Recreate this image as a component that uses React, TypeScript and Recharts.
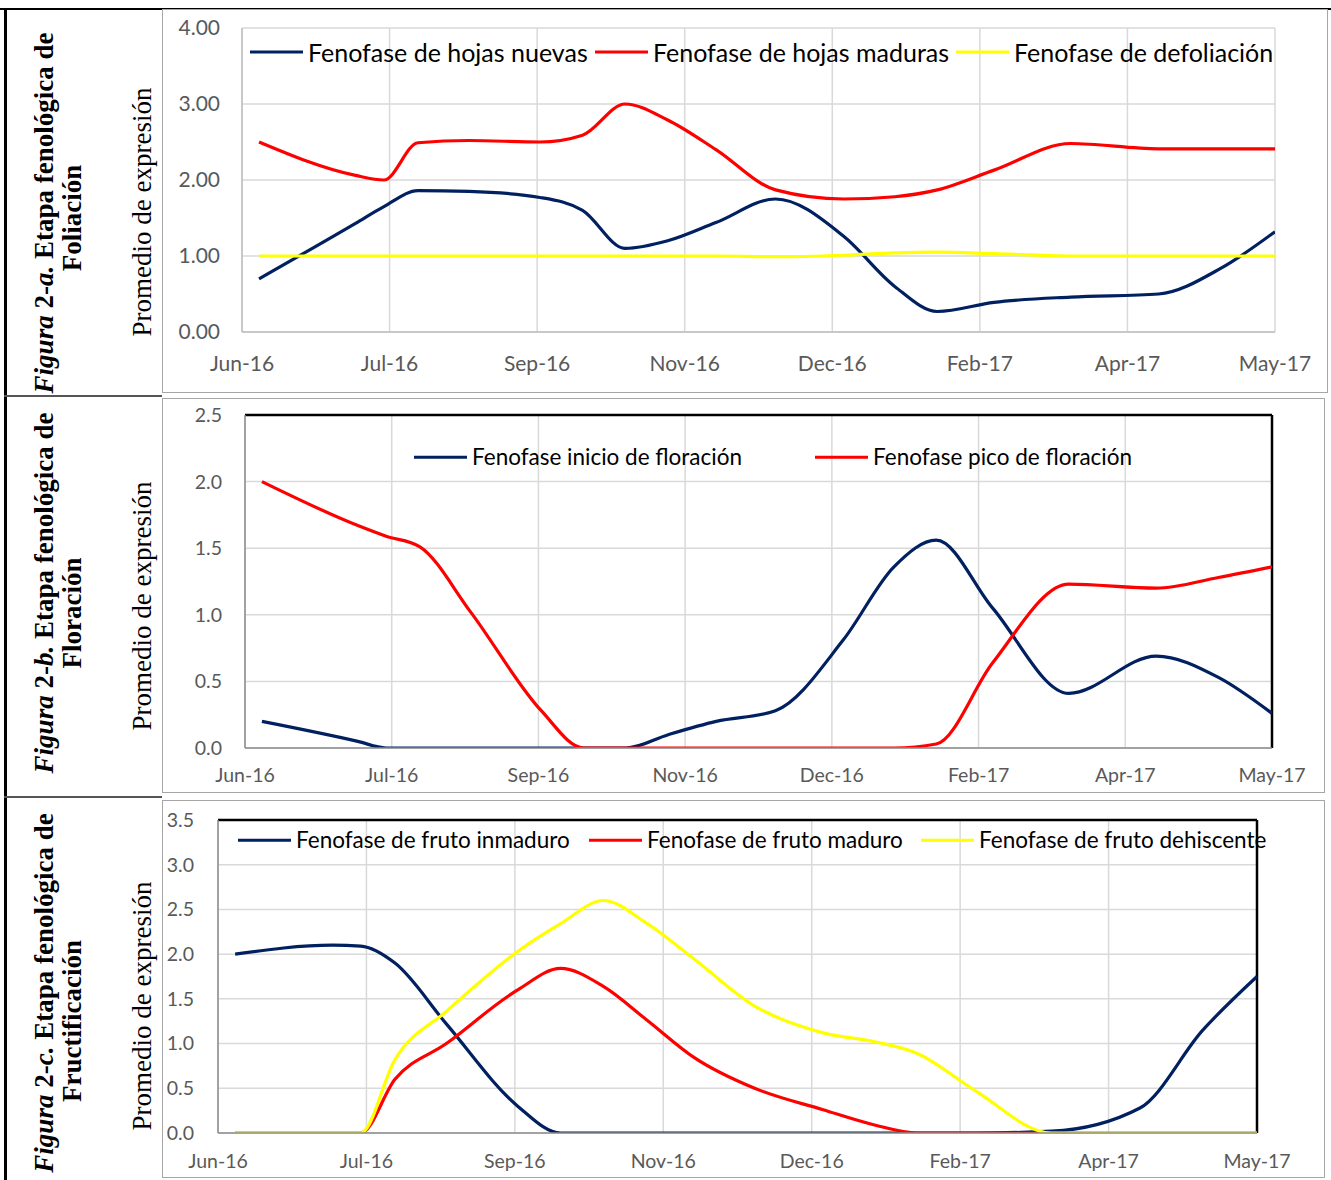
import React from 'react';
import { LineChart, Line, XAxis, YAxis, CartesianGrid, ReferenceLine } from 'recharts';

// ---- DATA ----
// sampling dates, as days counted from 1 Jun 2016
const sampleDays = [6, 40, 50, 62, 80, 105, 120, 135, 150, 167, 188, 212, 230, 245, 265, 292, 323, 345, 364];
// axis tick dates (days from 1 Jun 2016) and their labels
const tickDays = [0, 52, 104, 156, 208, 260, 312, 364];
const tickLabels = ['Jun-16', 'Jul-16', 'Sep-16', 'Nov-16', 'Dec-16', 'Feb-17', 'Apr-17', 'May-17'];

// Figura 2-a Foliación
const hojasNuevas = [0.70, 1.43, 1.65, 1.86, 1.85, 1.77, 1.60, 1.10, 1.20, 1.44, 1.75, 1.26, 0.60, 0.27, 0.39, 0.46, 0.50, 0.84, 1.32];
const hojasMaduras = [2.50, 2.06, 2.00, 2.49, 2.52, 2.50, 2.59, 3.00, 2.79, 2.40, 1.87, 1.75, 1.78, 1.87, 2.13, 2.48, 2.41, 2.41, 2.41];
const defoliacion = [1.00, 1.00, 1.00, 1.00, 1.00, 1.00, 1.00, 1.00, 1.00, 1.00, 0.99, 1.01, 1.04, 1.05, 1.03, 1.00, 1.00, 1.00, 1.00];

// Figura 2-b Floración
const inicioFloracion = [0.20, 0.05, 0.00, 0.00, 0.00, 0.00, 0.00, 0.00, 0.10, 0.20, 0.28, 0.81, 1.36, 1.56, 1.05, 0.41, 0.69, 0.53, 0.26];
const picoFloracion = [2.00, 1.67, 1.59, 1.51, 1.02, 0.28, 0.00, 0.00, 0.00, 0.00, 0.00, 0.00, 0.00, 0.03, 0.64, 1.23, 1.20, 1.28, 1.36];

// Figura 2-c Fructificación
const frutoInmaduro = [2.00, 2.10, 2.09, 1.90, 1.22, 0.30, 0.00, 0.00, 0.00, 0.00, 0.00, 0.00, 0.00, 0.00, 0.00, 0.02, 0.28, 1.15, 1.75];
const frutoMaduro = [0.00, 0.00, 0.00, 0.60, 1.00, 1.60, 1.84, 1.64, 1.27, 0.84, 0.50, 0.26, 0.09, 0.00, 0.00, 0.00, 0.00, 0.00, 0.00];
const frutoDehiscente = [0.00, 0.00, 0.00, 0.82, 1.36, 2.03, 2.34, 2.60, 2.35, 1.94, 1.42, 1.12, 1.02, 0.89, 0.48, 0.00, 0.00, 0.00, 0.00];

const yTicksA = [0, 1, 2, 3, 4];
const yTicksB = [0, 0.5, 1, 1.5, 2, 2.5];
const yTicksC = [0, 0.5, 1, 1.5, 2, 2.5, 3, 3.5];

const NAVY = '#002060';
const RED = '#FF0000';
const YELLOW = '#FFFF00';

const seriesA = [
  { key: 'nuevas', name: 'Fenofase de hojas nuevas', color: NAVY, values: hojasNuevas },
  { key: 'maduras', name: 'Fenofase de hojas maduras', color: RED, values: hojasMaduras },
  { key: 'defol', name: 'Fenofase de defoliación', color: YELLOW, values: defoliacion },
];
const seriesB = [
  { key: 'inicio', name: 'Fenofase inicio de floración', color: NAVY, values: inicioFloracion },
  { key: 'pico', name: 'Fenofase pico de floración', color: RED, values: picoFloracion },
];
const seriesC = [
  { key: 'inmaduro', name: 'Fenofase de fruto inmaduro', color: NAVY, values: frutoInmaduro },
  { key: 'maduro', name: 'Fenofase de fruto maduro', color: RED, values: frutoMaduro },
  { key: 'dehisc', name: 'Fenofase de fruto dehiscente', color: YELLOW, values: frutoDehiscente },
];

function buildRows(series: any[]) {
  return sampleDays.map((day, i) => {
    const row: any = { day };
    series.forEach((s) => {
      row[s.key] = s.values[i];
    });
    return row;
  });
}

const SANS = 'Lato, "Open Sans", sans-serif';
const SERIF = '"Liberation Serif", "Times New Roman", serif';

type PanelProps = {
  series: any[];
  box: { left: number; top: number; width: number; height: number };
  margin: { top: number; right: number; left: number; bottom: number };
  yAxisWidth: number;
  xAxisHeight: number;
  yTicks: number[];
  decimals: number;
  tickFont: number;
  yTickMargin: number;
  xTickMargin: number;
  framed: boolean;
  legend: { y: number; xs: number[]; font: number };
};

function Panel(p: PanelProps) {
  const data = buildRows(p.series);
  const yMax = p.yTicks[p.yTicks.length - 1];
  const tickStyle = { fill: '#595959', fontSize: p.tickFont, fontFamily: SANS };
  const axisGray = p.framed ? '#8c8c8c' : '#bfbfbf';
  return (
    <>
      <div
        style={{
          position: 'absolute',
          left: p.box.left,
          top: p.box.top,
          width: p.box.width,
          height: p.box.height,
          border: '1px solid #a6a6a6',
          boxSizing: 'border-box',
        }}
      />
      <div style={{ position: 'absolute', left: p.box.left, top: p.box.top }}>
        <LineChart width={p.box.width} height={p.box.height} data={data} margin={p.margin}>
          <CartesianGrid stroke="#d9d9d9" strokeWidth={1.5} />
          <XAxis
            type="number"
            dataKey="day"
            domain={[0, 364]}
            ticks={tickDays}
            interval={0}
            allowDataOverflow
            tickFormatter={(v: number) => tickLabels[tickDays.indexOf(v)]}
            height={p.xAxisHeight}
            tickLine={false}
            tickSize={0}
            tickMargin={p.xTickMargin}
            axisLine={{ stroke: axisGray, strokeWidth: 1.5 }}
            tick={tickStyle}
          />
          <YAxis
            type="number"
            domain={[0, yMax]}
            ticks={p.yTicks}
            interval={0}
            allowDataOverflow
            tickFormatter={(v: number) => v.toFixed(p.decimals)}
            width={p.yAxisWidth}
            tickLine={false}
            tickSize={0}
            tickMargin={p.yTickMargin}
            axisLine={{ stroke: axisGray, strokeWidth: 1.5 }}
            tick={tickStyle}
          />
          {p.framed && <ReferenceLine y={yMax} stroke="#000" strokeWidth={2.5} />}
          {p.framed && <ReferenceLine x={364} stroke="#000" strokeWidth={2.5} />}
          {p.series.map((s) => (
            <Line
              key={s.key}
              type="monotone"
              dataKey={s.key}
              name={s.name}
              stroke={s.color}
              strokeWidth={3.2}
              dot={false}
              activeDot={false}
              isAnimationActive={false}
            />
          ))}
        </LineChart>
      </div>
      {p.series.map((s, i) => (
        <div
          key={'lg' + s.key}
          style={{
            position: 'absolute',
            left: p.legend.xs[i],
            top: p.legend.y,
            transform: 'translateY(-50%)',
            display: 'flex',
            alignItems: 'center',
            whiteSpace: 'nowrap',
          }}
        >
          <div style={{ width: 53, height: 3.5, background: s.color, marginRight: 5 }} />
          <span style={{ fontFamily: SANS, fontSize: p.legend.font, color: '#000', lineHeight: 1 }}>{s.name}</span>
        </div>
      ))}
    </>
  );
}

function Rotated(props: { x: number; y: number; size: number; bold?: boolean; children: React.ReactNode }) {
  return (
    <div
      style={{
        position: 'absolute',
        left: props.x,
        top: props.y,
        transform: 'translate(-50%, -50%) rotate(-90deg)',
        whiteSpace: 'nowrap',
        fontFamily: SERIF,
        fontSize: props.size,
        fontWeight: props.bold ? 700 : 400,
        lineHeight: '30px',
        color: '#000',
      }}
    >
      {props.children}
    </div>
  );
}

const headings = [
  { letter: 'a', title: 'Foliación', y1: 213, y2: 218, yp: 212 },
  { letter: 'b', title: 'Floración', y1: 593, y2: 613, yp: 606 },
  { letter: 'c', title: 'Fructificación', y1: 993, y2: 1021, yp: 1006 },
];

export default function App() {
  return (
    <div
      style={{
        position: 'absolute',
        left: 0,
        top: 0,
        width: 1331,
        height: 1180,
        background: '#fff',
        overflow: 'hidden',
      }}
    >
      {/* table frame */}
      <div style={{ position: 'absolute', left: 0, top: 8, width: 1331, height: 2, background: '#000' }} />
      <div style={{ position: 'absolute', left: 4, top: 8, width: 2.5, height: 1172, background: '#000' }} />
      <div style={{ position: 'absolute', left: 4, top: 395, width: 158, height: 1.5, background: '#555' }} />
      <div style={{ position: 'absolute', left: 4, top: 796, width: 158, height: 1.5, background: '#555' }} />

      {headings.map((h) => (
        <React.Fragment key={h.letter}>
          <Rotated x={44} y={h.y1} size={27} bold>
            <i>Figura</i> 2-<i>{h.letter}.</i> Etapa fenológica de
          </Rotated>
          <Rotated x={72} y={h.y2} size={27} bold>
            {h.title}
          </Rotated>
          <Rotated x={142} y={h.yp} size={27}>
            Promedio de expresión
          </Rotated>
        </React.Fragment>
      ))}

      <Panel
        series={seriesA}
        box={{ left: 162, top: 9, width: 1166, height: 384 }}
        margin={{ top: 19, right: 53, left: 0, bottom: 0 }}
        yAxisWidth={80}
        xAxisHeight={61}
        yTicks={yTicksA}
        decimals={2}
        tickFont={21}
        yTickMargin={22}
        xTickMargin={24}
        framed={false}
        legend={{ y: 52, xs: [250, 595, 956], font: 25 }}
      />
      <Panel
        series={seriesB}
        box={{ left: 162, top: 398, width: 1163, height: 395 }}
        margin={{ top: 17, right: 53, left: 0, bottom: 0 }}
        yAxisWidth={83}
        xAxisHeight={45}
        yTicks={yTicksB}
        decimals={1}
        tickFont={19.5}
        yTickMargin={23}
        xTickMargin={20}
        framed
        legend={{ y: 457, xs: [414, 815], font: 22.5 }}
      />
      <Panel
        series={seriesC}
        box={{ left: 162, top: 800, width: 1163, height: 378 }}
        margin={{ top: 20, right: 68, left: 0, bottom: 0 }}
        yAxisWidth={56}
        xAxisHeight={45}
        yTicks={yTicksC}
        decimals={1}
        tickFont={19.5}
        yTickMargin={24}
        xTickMargin={21}
        framed
        legend={{ y: 840, xs: [238, 589, 921], font: 22.5 }}
      />
    </div>
  );
}
